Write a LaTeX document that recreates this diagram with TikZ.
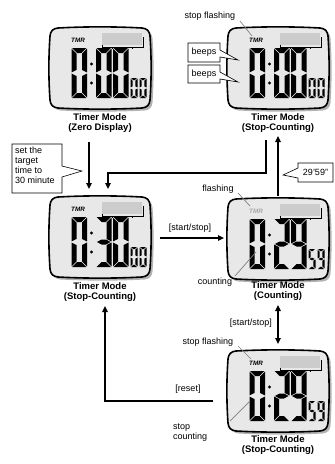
\documentclass[tikz,border=0pt]{standalone}
\usepackage{fontspec}
\setmainfont{Liberation Sans}
\usetikzlibrary{arrows.meta}
\definecolor{lcdgray}{gray}{0.91}

% seven-segment pieces (local frame: top-left origin, y downwards)
\def\dG{0.6}
\newcommand\segA{\fill (\dG,0) -- (\dW-\dG,0) -- (\dW-\dT-\dG,\dT) -- (\dT+\dG,\dT) -- cycle;}
\newcommand\segD{\fill (\dG,\dH) -- (\dW-\dG,\dH) -- (\dW-\dT-\dG,\dH-\dT) -- (\dT+\dG,\dH-\dT) -- cycle;}
\newcommand\segF{\fill (0,\dG) -- (\dT,\dT+\dG) -- (\dT,\dM-\dT/2-\dG) -- (0,\dM-\dG) -- cycle;}
\newcommand\segB{\fill (\dW,\dG) -- (\dW-\dT,\dT+\dG) -- (\dW-\dT,\dM-\dT/2-\dG) -- (\dW,\dM-\dG) -- cycle;}
\newcommand\segE{\fill (0,\dH-\dG) -- (\dT,\dH-\dT-\dG) -- (\dT,\dM+\dT/2+\dG) -- (0,\dM+\dG) -- cycle;}
\newcommand\segC{\fill (\dW,\dH-\dG) -- (\dW-\dT,\dH-\dT-\dG) -- (\dW-\dT,\dM+\dT/2+\dG) -- (\dW,\dM+\dG) -- cycle;}
\newcommand\segG{\fill (1.5*\dG,\dM) -- (\dT+\dG,\dM-\dT/2) -- (\dW-\dT-\dG,\dM-\dT/2) -- (\dW-1.5*\dG,\dM) -- (\dW-\dT-\dG,\dM+\dT/2) -- (\dT+\dG,\dM+\dT/2) -- cycle;}
\expandafter\def\csname dg0\endcsname{A,B,C,D,E,F}
\expandafter\def\csname dg2\endcsname{A,B,G,E,D}
\expandafter\def\csname dg3\endcsname{A,B,G,C,D}
\expandafter\def\csname dg5\endcsname{A,F,G,C,D}
\expandafter\def\csname dg9\endcsname{A,B,C,D,F,G}
\newcommand\sdig[6]{%
 \begin{scope}[shift={(#1,#2)}]
 \def\dW{#3}\def\dH{#4}\def\dT{#5}%
 \pgfmathsetmacro\dM{#4/2}%
 \expandafter\let\expandafter\dlist\csname dg#6\endcsname
 \foreach \s in \dlist {\csname seg\s\endcsname}%
 \end{scope}}
\newcommand\lcdframe[1]{\path[#1] (8,0) .. controls (35,-1.5) and (65,-1.5) .. (92,0)
  .. controls (97,0.5) and (99.5,3) .. (100,8)
  .. controls (101.5,30) and (101.5,50) .. (100,72)
  .. controls (99.5,77) and (97,79.5) .. (92,80)
  .. controls (65,81.5) and (35,81.5) .. (8,80)
  .. controls (3,79.5) and (0.5,77) .. (0,72)
  .. controls (-1.5,50) and (-1.5,30) .. (0,8)
  .. controls (0.5,3) and (3,0.5) .. (8,0) -- cycle;}
\newcommand\lcd[9]{%
 \begin{scope}[shift={(#2,#3)}]
 \lcdframe{fill=gray!60, shift={(2.5,2.5)}}
 \lcdframe{fill=lcdgray, draw=black, line width=1.6pt}
 \node[tmr, text=#4] (#1-tmr) at (28,12) {TMR};
 \fill[gray!40] (52,5) rectangle (92,17);
 \draw[line width=0.5pt] (52,17) -- (52,19) -- (93,19) -- (93,9);
 \foreach \k in {62,72,82} \draw[line width=0.5pt] (\k,19) -- (\k,21);
 \sdig{21.5}{20}{15.5}{50}{5}{#5}
 \fill (41.5,36) circle (1.7) (41.5,55) circle (1.7);
 \sdig{46}{20}{15.5}{50}{5}{#6}
 \sdig{63}{20}{15.5}{50}{5}{#7}
 \sdig{80.5}{50}{7}{20}{2.2}{#8}
 \sdig{89.5}{50}{7}{20}{2.2}{#9}
 \end{scope}}

\begin{document}
\begin{tikzpicture}[x=1pt,y=-1pt,
  lbl/.style={font=\bfseries\fontsize{9.5}{10}\selectfont, align=center, inner sep=0},
  txt/.style={font=\fontsize{9}{10}\selectfont, inner sep=0},
  arr/.style={line width=1.8pt, -{Triangle[length=6pt,width=5.5pt]}},
  darr/.style={line width=1.8pt, {Triangle[length=6pt,width=5.5pt]}-{Triangle[length=6pt,width=5.5pt]}},
  lead/.style={gray, line width=0.7pt},
  callout/.style={draw=black, fill=white, line width=0.6pt},
  tmr/.style={font=\bfseries\itshape\fontsize{6.3}{7}\selectfont, inner sep=0}]
\useasboundingbox (0,0) rectangle (335,464);

% displays
\lcd{d1}{50}{28}{black}{0}{0}{0}{0}{0}
\lcd{d2}{228}{28}{black}{0}{0}{0}{0}{0}
\lcd{d3}{50}{197}{black}{0}{3}{0}{0}{0}
\lcd{d4}{228}{199}{gray!70}{0}{2}{9}{5}{9}
\lcd{d5}{228}{351}{black}{0}{2}{9}{5}{9}

% labels
\node[lbl] (l1) at (100,123) {Timer Mode\\(Zero Display)};
\node[lbl] (l2) at (278,123) {Timer Mode\\(Stop-Counting)};
\node[lbl] (l3) at (100,292) {Timer Mode\\(Stop-Counting)};
\node[lbl] (l4) at (278,291) {Timer Mode\\(Counting)};
\node[lbl] (l5) at (278,445) {Timer Mode\\(Stop-Counting)};

% connectors
\coordinate (p1) at (89,142); \coordinate (p2) at (89,189);
\draw[arr] (p1) -- (p2);
\coordinate (q1) at (266,140); \coordinate (q2) at (266,173);
\coordinate (q3) at (108,173); \coordinate (q4) at (108,189);
\draw[arr] (q1) -- (q2) -- (q3) -- (q4);
\coordinate (u1) at (278,196); \coordinate (u2) at (278,136);
\draw[arr] (u1) -- (u2);
\coordinate (h1) at (160,238); \coordinate (h2) at (224,238);
\draw[arr] (h1) -- (h2);
\coordinate (v1) at (278,305); \coordinate (v2) at (278,344);
\draw[darr] (v1) -- (v2);
\coordinate (r1) at (213,401); \coordinate (r2) at (105,401); \coordinate (r3) at (105,306);
\draw[arr] (r1) -- (r2) -- (r3);

% connector labels
\node[txt] (ss1) at (190,228) {[start/stop]};
\node[txt,anchor=east] (ss2) at (272,323) {[start/stop]};
\node[txt] (rs) at (188,389) {[reset]};

% annotations
\node[txt] (sf1) at (210,16) {stop flashing};
\draw[lead] (240,21) -- (252,36);
\node[txt] (fl) at (218,189) {flashing};
\draw[lead] (238,193) -- (250,206);
\node[txt] (cn) at (215,282) {counting};
\draw[lead] (235,276) -- (256,252);
\node[txt] (sf2) at (208,342) {stop flashing};
\draw[lead] (238,346) -- (251,359);
\node[txt, align=left, anchor=north west] (sc) at (173,423) {stop\\counting};
\draw[lead] (230,421) -- (250,401);

% callouts
\draw[callout] (12,144) -- (62,144) -- (62,166) -- (82,171) -- (62,177) -- (62,193) -- (12,193) -- cycle;
\node[txt, align=left, anchor=north west] (cb1) at (15,147) {set the\\target\\time to\\30 minute};
\draw[callout] (188,43) -- (220,43) -- (220,50) -- (238,60) -- (220,57) -- (220,62) -- (188,62) -- cycle;
\node[txt] (cb2) at (204,52.5) {beeps};
\draw[callout] (188,65) -- (220,65) -- (220,72) -- (238,82) -- (220,79) -- (220,83) -- (188,83) -- cycle;
\node[txt] (cb3) at (204,74) {beeps};
\draw[callout] (298,163) -- (333,163) -- (333,182) -- (298,182) -- (298,178) -- (283,175) -- (298,168) -- cycle;
\node[txt] (cb4) at (315.5,172.5) {29'59"};
\end{tikzpicture}
\end{document}
